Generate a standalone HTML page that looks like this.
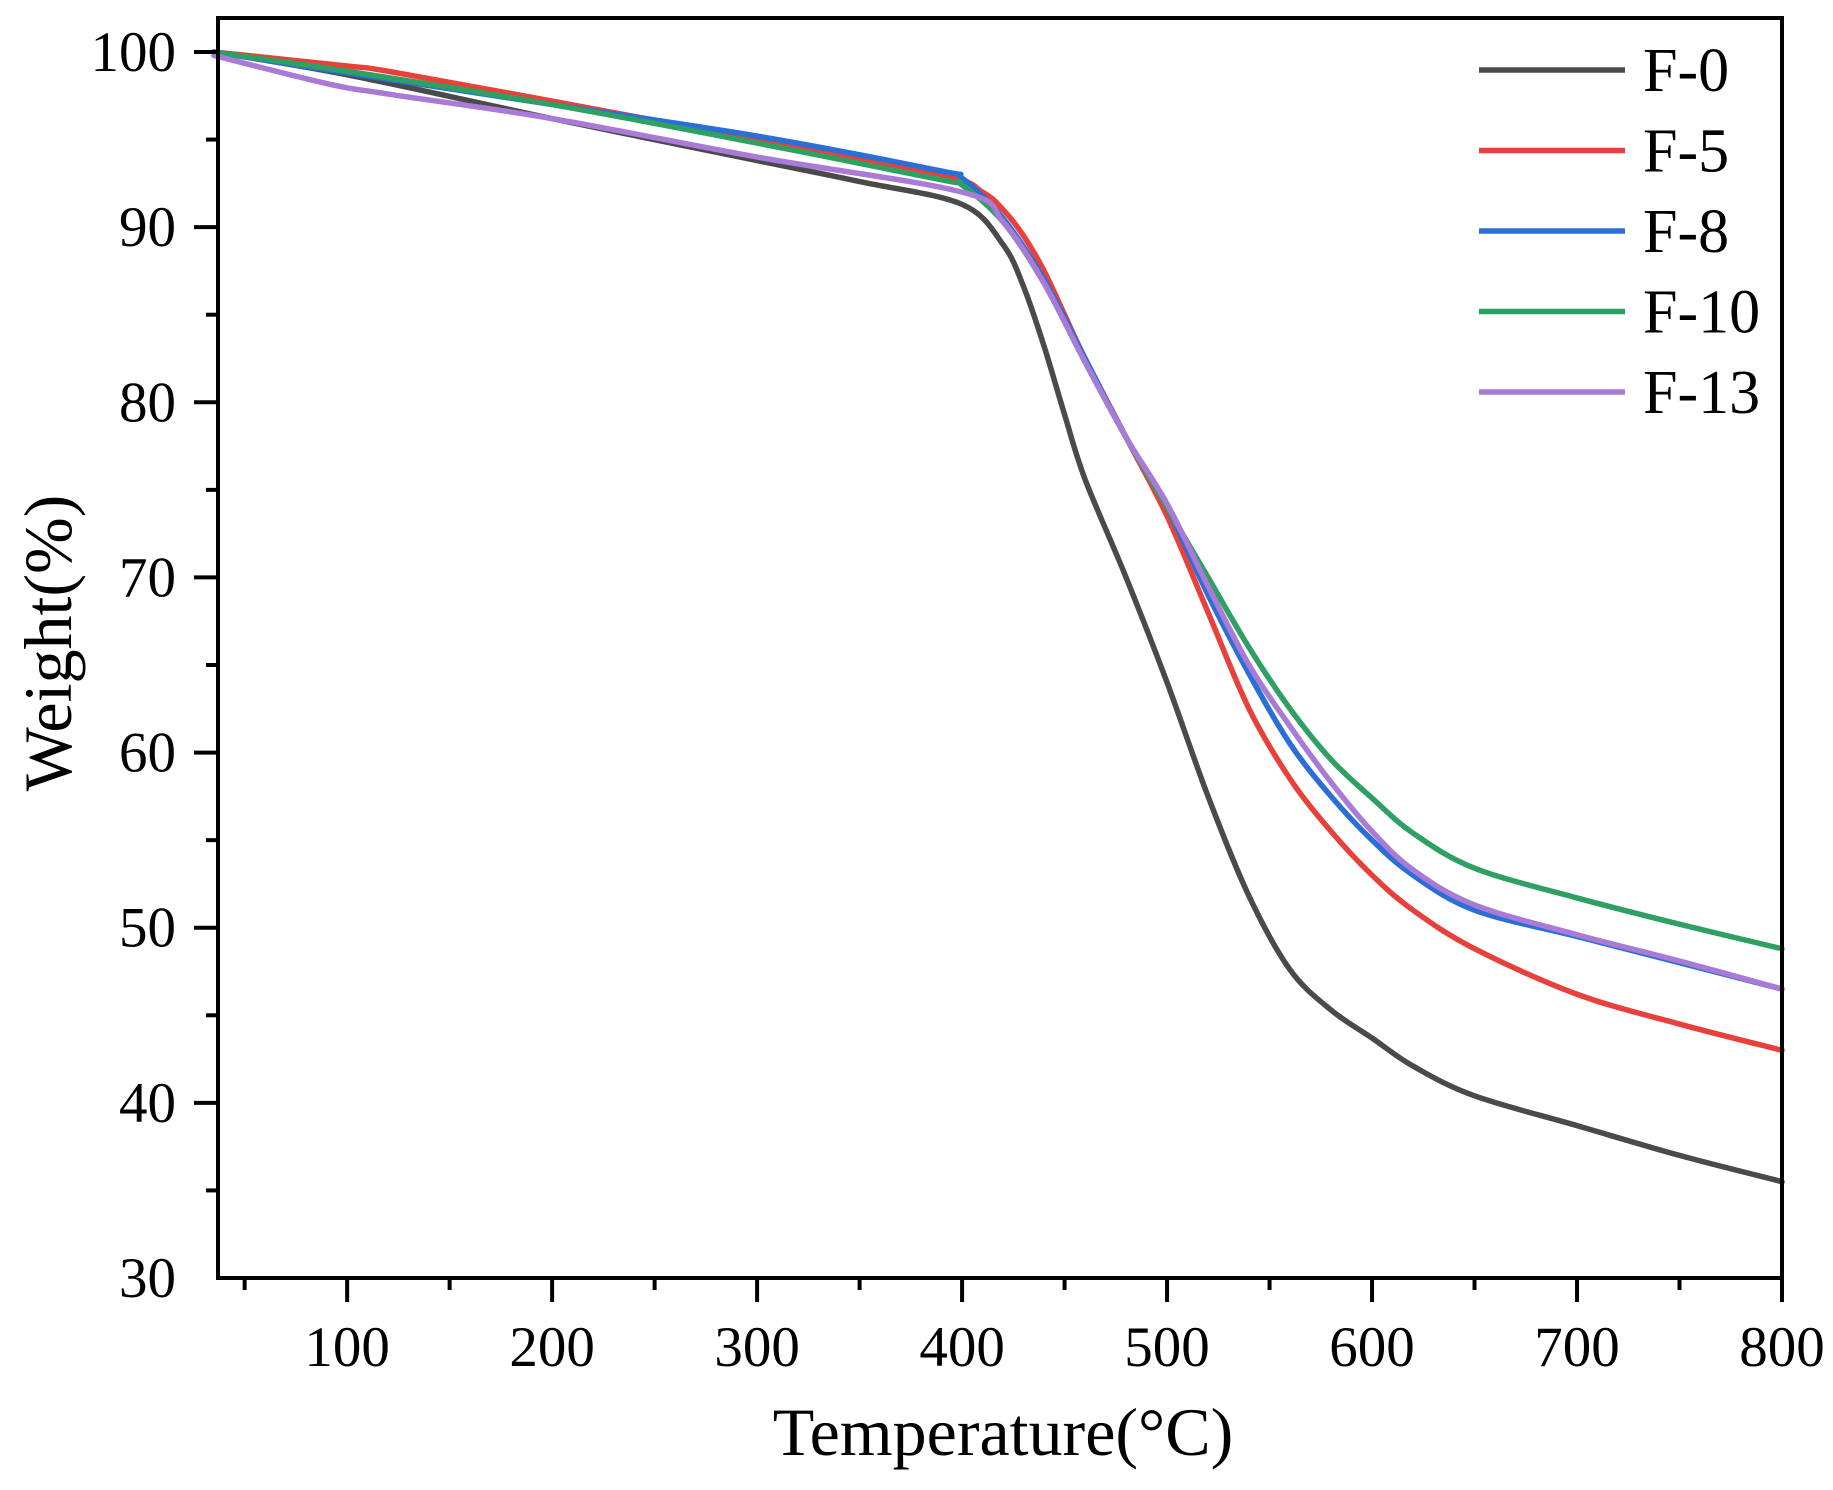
<!DOCTYPE html>
<html><head><meta charset="utf-8"><style>
html,body{margin:0;padding:0;background:#fff}
svg{display:block;font-family:"Liberation Serif",serif}
</style></head><body>
<svg id="chart" width="1833" height="1490" viewBox="0 0 1833 1490"></svg>
<script>
const seriesNames=["F-0","F-5","F-8","F-10","F-13"];
const seriesColors=["#4a4a4a","#e8403a","#2a6fd6","#2fa064","#a97ad6"];
const xF0=[35,100,200,300,350,400,420,430,440,450,460,480,500,520,540,560,580,600,620,650,700,750,800];
const yF0=[100,98.7,96.2,93.8,92.6,91.3,89,86.6,83.2,79.3,75.6,70,64,57.5,51.8,47.6,45.3,43.7,42.1,40.4,38.7,37,35.5];
const xF5=[35,100,120,200,300,390,410,420,430,440,450,460,480,500,520,540,560,580,600,620,650,700,750,800];
const yF5=[100,99.2,98.9,97.2,95,93,92,91,89.5,87.5,85,82.5,78,73.5,68,62.5,58.5,55.5,53,51,48.8,46.2,44.5,43];
const xF8=[35,100,200,300,390,400,420,440,460,480,500,520,540,560,580,600,620,650,700,750,800];
const yF8=[100,98.8,97,95.2,93.2,92.8,90.5,87,82.5,78,74,69,64.5,60.5,57.5,55,53,51,49.5,48,46.5];
const xF10=[35,100,200,300,390,400,420,440,460,480,500,520,540,560,580,600,620,650,700,750,800];
const yF10=[100,98.9,97,94.8,92.7,92.4,90.3,86.8,82.3,78,74,70,66,62.5,59.6,57.4,55.4,53.4,51.7,50.2,48.8];
const xF13=[35,90,120,200,300,400,420,440,460,480,500,520,540,560,580,600,620,650,700,750,800];
const yF13=[99.8,98.2,97.6,96.2,94,92,90.3,86.8,82.3,78,74.2,69.5,65,61.5,58.3,55.5,53.3,51.3,49.6,48.1,46.5];
const xTicks=[100,200,300,400,500,600,700,800];
const yTicks=[30,40,50,60,70,80,90,100];

const X0=218,X1=1782,Y0=1278,Y1=52;
const xMin=37,xMax=800,yMin=30,yMax=100;
const sx=v=>X0+(v-xMin)/(xMax-xMin)*(X1-X0);
const sy=v=>Y0-(v-yMin)/(yMax-yMin)*(Y0-Y1);
const svg=document.getElementById('chart');
const NS="http://www.w3.org/2000/svg";
function mk(t,a){const e=document.createElementNS(NS,t);for(const k in a)e.setAttribute(k,a[k]);svg.appendChild(e);return e;}
function path(xs,ys){
  const p=xs.map((x,i)=>[sx(x),sy(ys[i])]);
  let d=`M${p[0][0]},${p[0][1]}`;
  for(let i=0;i<p.length-1;i++){
    const a=p[Math.max(0,i-1)],b=p[i],c=p[i+1],e=p[Math.min(p.length-1,i+2)];
    const c1=[b[0]+(c[0]-a[0])/6,b[1]+(c[1]-a[1])/6],c2=[c[0]-(e[0]-b[0])/6,c[1]-(e[1]-b[1])/6];
    d+=` C${c1[0]},${c1[1]} ${c2[0]},${c2[1]} ${c[0]},${c[1]}`;
  }
  return d;
}
const xsAll=[xF0,xF5,xF8,xF10,xF13],ysAll=[yF0,yF5,yF8,yF10,yF13];
[0,1,2,3,4].forEach(i=>{
  const el=mk('path',{d:path(xsAll[i],ysAll[i]),fill:'none',stroke:seriesColors[i],'stroke-width':5.5,'stroke-linejoin':'round','stroke-linecap':'round'});
  
  
});
const fr=mk('rect',{x:X0,y:18,width:X1-X0,height:Y0-18,fill:'none',stroke:'#000','stroke-width':4});


for(let v=50;v<=800;v+=50){
  const major=v%100===0;
  const t=mk('line',{x1:sx(v),x2:sx(v),y1:Y0,y2:Y0+(major?24:12),stroke:'#000','stroke-width':4});
  
  
}
xTicks.forEach(v=>{
  const t=mk('text',{x:sx(v),y:1366,'text-anchor':'middle','font-size':57,fill:'#000'});
  t.textContent=v;
  
  
});
for(let v=35;v<=100;v+=5){
  const major=v%10===0;
  const t=mk('line',{x1:X0-(major?24:12),x2:X0,y1:sy(v),y2:sy(v),stroke:'#000','stroke-width':4});
  
  
}
yTicks.forEach(v=>{
  const t=mk('text',{x:176,y:sy(v)+19,'text-anchor':'end','font-size':57,fill:'#000'});
  t.textContent=v;
  
  
});
const xt=mk('text',{x:1003,y:1455,'text-anchor':'middle','font-size':68,fill:'#000'});
xt.textContent='Temperature(°C)';


const yt=mk('text',{x:0,y:0,'text-anchor':'middle','font-size':68,fill:'#000',transform:'translate(71,643) rotate(-90)'});
yt.textContent='Weight(%)';


seriesNames.forEach((n,i)=>{
  const y=70+i*80.5;
  const l=mk('line',{x1:1479,x2:1625,y1:y,y2:y,stroke:seriesColors[i],'stroke-width':5.5});
  
  
  const t=mk('text',{x:1643,y:y+21,'font-size':62,fill:'#000'});
  t.textContent=n;
  
  
});
</script>
</body></html>
